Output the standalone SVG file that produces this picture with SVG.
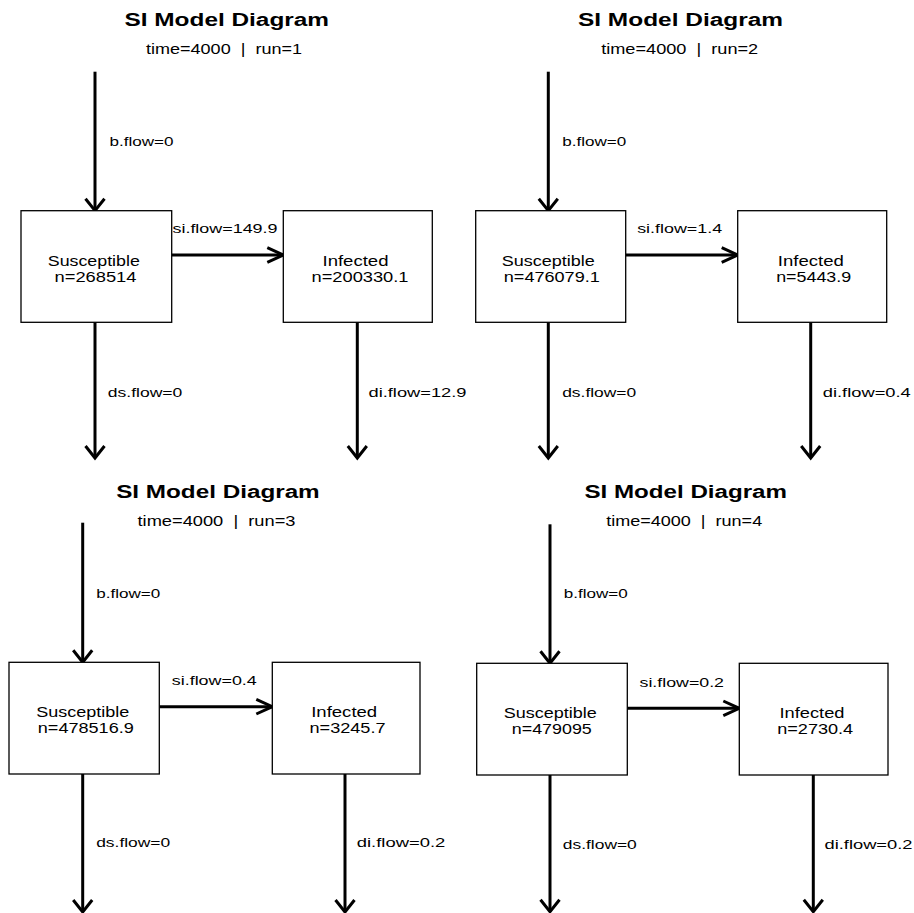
<svg xmlns="http://www.w3.org/2000/svg" width="914" height="913" viewBox="0 0 914 913">
<style>
text{font-family:"Liberation Sans",Arial,sans-serif;fill:#000;white-space:pre}
.title{font-size:18px;font-weight:bold}
.sub{font-size:14.5px}
.node{font-size:15.5px}
.flow{font-size:13.5px}
.box{fill:#fff;stroke:#000;stroke-width:1.3}
.conn{fill:none;stroke:#000;stroke-width:3}
.v{marker-end:url(#arrV)}
.h{marker-end:url(#arrH)}
</style>
<defs>
<marker id="arrV" markerUnits="userSpaceOnUse" orient="auto" refX="0" refY="0" markerWidth="1" markerHeight="1" overflow="visible">
<path d="M-12,-9.5 L0,0 L-12,9.5" fill="none" stroke="#000" stroke-width="3"/>
</marker>
<marker id="arrH" markerUnits="userSpaceOnUse" orient="auto" refX="0" refY="0" markerWidth="1" markerHeight="1" overflow="visible">
<path d="M-16,-7.3 L0,0 L-16,7.3" fill="none" stroke="#000" stroke-width="3"/>
</marker>
</defs>
<rect width="914" height="913" fill="#fff"/>

<g id="titles">
<text class="title" x="124.5" y="26" textLength="204.5" lengthAdjust="spacingAndGlyphs">SI Model Diagram</text>
<text class="sub" x="146" y="54" textLength="156" lengthAdjust="spacingAndGlyphs">time=4000  |  run=1</text>
<text class="title" x="578" y="26" textLength="205" lengthAdjust="spacingAndGlyphs">SI Model Diagram</text>
<text class="sub" x="601.2" y="54" textLength="157" lengthAdjust="spacingAndGlyphs">time=4000  |  run=2</text>
<text class="title" x="116.2" y="497.7" textLength="203.5" lengthAdjust="spacingAndGlyphs">SI Model Diagram</text>
<text class="sub" x="137.5" y="525.5" textLength="158" lengthAdjust="spacingAndGlyphs">time=4000  |  run=3</text>
<text class="title" x="584.5" y="498" textLength="202.5" lengthAdjust="spacingAndGlyphs">SI Model Diagram</text>
<text class="sub" x="606.2" y="526" textLength="156" lengthAdjust="spacingAndGlyphs">time=4000  |  run=4</text>
</g>

<g id="connectors">
<path class="conn v" d="M95,71.7 V210.7"/>
<path class="conn h" d="M171.7,255 H283.3"/>
<path class="conn v" d="M95,322.3 V458"/>
<path class="conn v" d="M357.3,322.3 V458"/>
<path class="conn v" d="M548.3,71.7 V210.7"/>
<path class="conn h" d="M625.7,255 H737.7"/>
<path class="conn v" d="M548.3,322.3 V458"/>
<path class="conn v" d="M810.7,322.3 V458"/>
<path class="conn v" d="M82.7,522.7 V662.3"/>
<path class="conn h" d="M159.3,706.7 H272.3"/>
<path class="conn v" d="M82.7,774 V912"/>
<path class="conn v" d="M345,774 V912"/>
<path class="conn v" d="M550,524.3 V663.3"/>
<path class="conn h" d="M627.3,708.3 H739.3"/>
<path class="conn v" d="M550,775 V911.7"/>
<path class="conn v" d="M813.3,775 V911.7"/>
</g>

<g id="flow-labels">
<text class="flow" x="109.5" y="146" textLength="64" lengthAdjust="spacingAndGlyphs">b.flow=0</text>
<text class="flow" x="172.5" y="233" textLength="105" lengthAdjust="spacingAndGlyphs">si.flow=149.9</text>
<text class="flow" x="107.8" y="397" textLength="74.5" lengthAdjust="spacingAndGlyphs">ds.flow=0</text>
<text class="flow" x="368.5" y="397" textLength="98" lengthAdjust="spacingAndGlyphs">di.flow=12.9</text>
<text class="flow" x="562.2" y="146" textLength="64" lengthAdjust="spacingAndGlyphs">b.flow=0</text>
<text class="flow" x="637.2" y="233" textLength="85" lengthAdjust="spacingAndGlyphs">si.flow=1.4</text>
<text class="flow" x="562.2" y="397" textLength="74" lengthAdjust="spacingAndGlyphs">ds.flow=0</text>
<text class="flow" x="822.8" y="397" textLength="88" lengthAdjust="spacingAndGlyphs">di.flow=0.4</text>
<text class="flow" x="96.2" y="597.7" textLength="64" lengthAdjust="spacingAndGlyphs">b.flow=0</text>
<text class="flow" x="171.8" y="685" textLength="85" lengthAdjust="spacingAndGlyphs">si.flow=0.4</text>
<text class="flow" x="96.2" y="847.3" textLength="74" lengthAdjust="spacingAndGlyphs">ds.flow=0</text>
<text class="flow" x="356.8" y="847.3" textLength="88.5" lengthAdjust="spacingAndGlyphs">di.flow=0.2</text>
<text class="flow" x="563.8" y="598.3" textLength="64" lengthAdjust="spacingAndGlyphs">b.flow=0</text>
<text class="flow" x="639.5" y="686.7" textLength="84.5" lengthAdjust="spacingAndGlyphs">si.flow=0.2</text>
<text class="flow" x="562.8" y="849.3" textLength="74" lengthAdjust="spacingAndGlyphs">ds.flow=0</text>
<text class="flow" x="824.5" y="849.3" textLength="88" lengthAdjust="spacingAndGlyphs">di.flow=0.2</text>
</g>

<g id="s1">
<rect class="box" x="21" y="210.7" width="150.7" height="111.6"/>
<text class="node" x="47.8" y="265.5" textLength="92" lengthAdjust="spacingAndGlyphs">Susceptible</text>
<text class="node" x="54.5" y="281.5" textLength="82" lengthAdjust="spacingAndGlyphs">n=268514</text>
</g>
<g id="i1">
<rect class="box" x="283.3" y="210.7" width="149" height="111.6"/>
<text class="node" x="322.5" y="265.5" textLength="66" lengthAdjust="spacingAndGlyphs">Infected</text>
<text class="node" x="311.5" y="281.5" textLength="97" lengthAdjust="spacingAndGlyphs">n=200330.1</text>
</g>
<g id="s2">
<rect class="box" x="475.7" y="210.7" width="150" height="111.6"/>
<text class="node" x="501.8" y="265.5" textLength="93" lengthAdjust="spacingAndGlyphs">Susceptible</text>
<text class="node" x="503.8" y="281.5" textLength="96" lengthAdjust="spacingAndGlyphs">n=476079.1</text>
</g>
<g id="i2">
<rect class="box" x="737.7" y="210.7" width="149" height="111.6"/>
<text class="node" x="777.8" y="265.5" textLength="66" lengthAdjust="spacingAndGlyphs">Infected</text>
<text class="node" x="776.2" y="281.5" textLength="75" lengthAdjust="spacingAndGlyphs">n=5443.9</text>
</g>
<g id="s3">
<rect class="box" x="9" y="662.3" width="150.3" height="111.7"/>
<text class="node" x="36.2" y="716.5" textLength="93" lengthAdjust="spacingAndGlyphs">Susceptible</text>
<text class="node" x="37.8" y="733" textLength="96" lengthAdjust="spacingAndGlyphs">n=478516.9</text>
</g>
<g id="i3">
<rect class="box" x="272.3" y="662.3" width="147.7" height="111.7"/>
<text class="node" x="311.2" y="716.5" textLength="66" lengthAdjust="spacingAndGlyphs">Infected</text>
<text class="node" x="309.5" y="733" textLength="76" lengthAdjust="spacingAndGlyphs">n=3245.7</text>
</g>
<g id="s4">
<rect class="box" x="476.7" y="663.3" width="150.6" height="111.7"/>
<text class="node" x="503.8" y="717.5" textLength="93" lengthAdjust="spacingAndGlyphs">Susceptible</text>
<text class="node" x="511.8" y="734" textLength="80" lengthAdjust="spacingAndGlyphs">n=479095</text>
</g>
<g id="i4">
<rect class="box" x="739.3" y="663.3" width="148.7" height="111.7"/>
<text class="node" x="779.5" y="717.5" textLength="65" lengthAdjust="spacingAndGlyphs">Infected</text>
<text class="node" x="777.2" y="734" textLength="76" lengthAdjust="spacingAndGlyphs">n=2730.4</text>
</g>
</svg>
